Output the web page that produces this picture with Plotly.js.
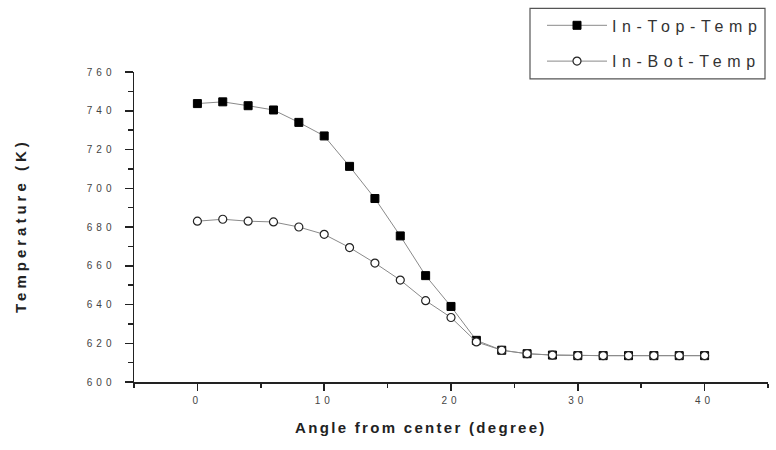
<!DOCTYPE html>
<html>
<head>
<meta charset="utf-8">
<script src="https://cdn.plot.ly/plotly-3.0.1.min.js"></script>
<style>
  html, body { margin: 0; padding: 0; background: #fff; }
  #chart { width: 776px; height: 450px; }
  .xtick text, .ytick text { letter-spacing: 4px; }
  .legendtext { letter-spacing: 5.6px; }
  .annotation[data-index="0"] .annotation-text { letter-spacing: 2.3px; }
  .annotation[data-index="1"] .annotation-text { letter-spacing: 4px; }
</style>
</head>
<body>
<div id="chart"></div>
<script>
const angles = [0, 2, 4, 6, 8, 10, 12, 14, 16, 18, 20, 22, 24, 26, 28, 30, 32, 34, 36, 38, 40];
const topTemp = [743.7, 744.6, 742.6, 740.4, 734, 727, 711.3, 694.7, 675.4, 654.9, 639, 621.5, 616.4, 614.6, 613.9, 613.6, 613.6, 613.6, 613.6, 613.6, 613.6];
const botTemp = [683, 684, 683, 682.6, 680, 676.2, 669.4, 661.4, 652.6, 642, 633.3, 620.7, 616.4, 614.6, 613.9, 613.6, 613.6, 613.6, 613.6, 613.6, 613.6];
const seriesNames = ['In-Top-Temp', 'In-Bot-Temp'];
const xTitle = 'Angle from center (degree)';
const yTitle = 'Temperature (K)';

const font = 'Liberation Sans, Arial, sans-serif';
const L = 134, R = 768, T = 70, B = 382;
const px = v => (v - L) / (R - L);
const py = v => (B - v) / (B - T);

const traces = [
  {
    x: angles, y: topTemp, name: seriesNames[0], type: 'scatter', mode: 'lines+markers',
    legendgroup: 'a',
    line: { color: '#8a8a8a', width: 1 },
    marker: { symbol: 'square', size: 8, color: '#000', line: { color: '#000', width: 1 } }
  },
  {
    x: angles, y: botTemp, name: seriesNames[1], type: 'scatter', mode: 'lines+markers',
    legendgroup: 'b',
    line: { color: '#8a8a8a', width: 1 },
    marker: { symbol: 'circle', size: 8, color: '#fff', line: { color: '#222', width: 1.2 } }
  }
];

const layout = {
  width: 776, height: 450,
  margin: { l: L, r: 776 - R, t: T, b: 450 - B },
  paper_bgcolor: '#fff', plot_bgcolor: '#fff',
  font: { family: font, color: '#333' },
  showlegend: true,
  legend: {
    x: px(542), y: py(6), xanchor: 'left', yanchor: 'top',
    borderwidth: 0, bgcolor: 'rgba(0,0,0,0)',
    font: { family: font, size: 16, color: '#333' },
    traceorder: 'grouped', tracegroupgap: 12,
    itemwidth: 60
  },
  shapes: [
    {
      type: 'rect', xref: 'paper', yref: 'paper',
      x0: px(530), x1: px(765), y0: py(77), y1: py(6),
      line: { color: '#555', width: 1.2 }, fillcolor: 'rgba(0,0,0,0)', layer: 'above'
    }
  ],
  xaxis: {
    range: [-5, 45], dtick: 10, tick0: 0,
    showgrid: false, zeroline: false,
    showline: true, linecolor: '#222', linewidth: 1.5,
    ticks: 'outside', ticklen: 7, tickwidth: 1.5, tickcolor: '#222',
    minor: { dtick: 5, ticks: 'outside', ticklen: 4, tickwidth: 1.5, tickcolor: '#222' },
    tickfont: { family: font, size: 10, color: '#444' },
    ticklabelstandoff: 1
  },
  yaxis: {
    range: [600, 760], dtick: 20, tick0: 600,
    showgrid: false, zeroline: false,
    showline: true, linecolor: '#222', linewidth: 1.5,
    ticks: 'outside', ticklen: 8, tickwidth: 1.5, tickcolor: '#222',
    minor: { dtick: 10, ticks: 'outside', ticklen: 5, tickwidth: 1.5, tickcolor: '#222' },
    tickfont: { family: font, size: 10, color: '#444' },
    ticklabelstandoff: 7
  },
  annotations: [
    {
      text: '<b>' + xTitle + '</b>', xref: 'paper', yref: 'paper', x: px(421), y: py(428),
      xanchor: 'center', yanchor: 'middle', showarrow: false,
      font: { family: font, size: 15, color: '#222' }
    },
    {
      text: '<b>' + yTitle + '</b>', xref: 'paper', yref: 'paper', x: px(20), y: py(225),
      xanchor: 'center', yanchor: 'middle', showarrow: false, textangle: -90,
      font: { family: font, size: 15, color: '#222' }
    }
  ]
};

Plotly.newPlot('chart', traces, layout, { displayModeBar: false, staticPlot: true });
</script>
</body>
</html>
